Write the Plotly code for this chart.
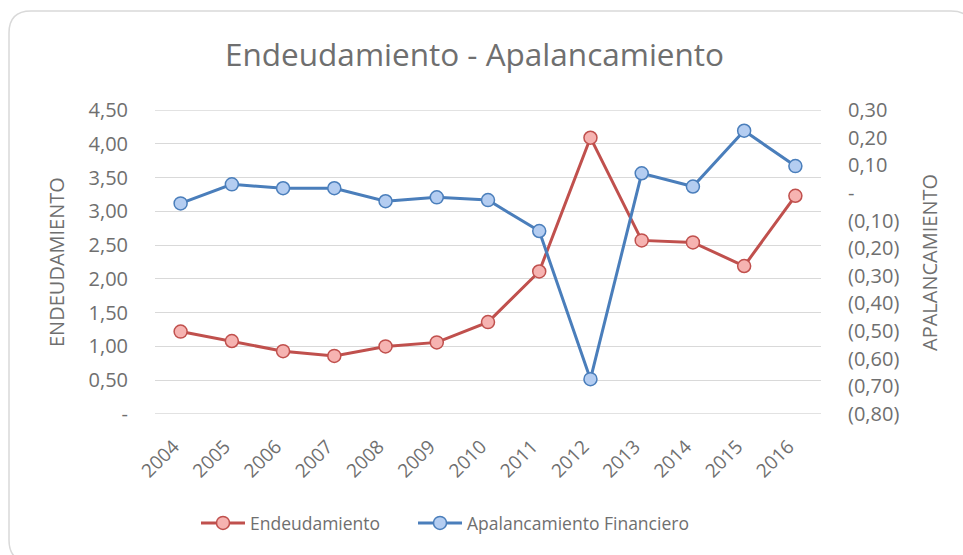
import plotly.graph_objects as go

years = ["2004", "2005", "2006", "2007", "2008", "2009", "2010",
         "2011", "2012", "2013", "2014", "2015", "2016"]
endeudamiento = [1.22, 1.08, 0.93, 0.86, 1.00, 1.06, 1.36,
                 2.11, 4.09, 2.57, 2.54, 2.19, 3.23]
apalancamiento = [-0.038, 0.031, 0.017, 0.017, -0.030, -0.016, -0.026,
                  -0.138, -0.674, 0.071, 0.023, 0.225, 0.097]

left_ticks = [0, 0.5, 1.0, 1.5, 2.0, 2.5, 3.0, 3.5, 4.0, 4.5]
left_labels = ["-", "0,50", "1,00", "1,50", "2,00", "2,50", "3,00", "3,50", "4,00", "4,50"]
right_ticks = [-0.8, -0.7, -0.6, -0.5, -0.4, -0.3, -0.2, -0.1, 0.0, 0.1, 0.2, 0.3]
right_labels = ["(0,80)", "(0,70)", "(0,60)", "(0,50)", "(0,40)", "(0,30)",
                "(0,20)", "(0,10)", "-", "0,10", "0,20", "0,30"]

W, H = 963, 555
PL, PR, PT, PB = 155, 821, 110, 414
PW, PH = PR - PL, PB - PT


def px(x):
    return (x - PL) / PW


def py(y):
    return (PB - y) / PH


FONT = "Open Sans"
GRAY = "#6f6f6f"
GRID = "#d9d9d9"
RED, RED_FILL = "#c0504d", "#f6b3b1"
BLUE, BLUE_FILL = "#4a7ebb", "#b4cdf1"

fig = go.Figure()
fig.add_trace(go.Scatter(
    x=years, y=endeudamiento, name="Endeudamiento", mode="lines+markers",
    line=dict(color=RED, width=3),
    marker=dict(size=13, color=RED_FILL, line=dict(color=RED, width=1.5)),
    yaxis="y", legend="legend"))
fig.add_trace(go.Scatter(
    x=years, y=apalancamiento, name="Apalancamiento Financiero", mode="lines+markers",
    line=dict(color=BLUE, width=3),
    marker=dict(size=13, color=BLUE_FILL, line=dict(color=BLUE, width=1.5)),
    yaxis="y2", legend="legend2"))

# rounded chart border
x0, x1, y0, y1, r = 9, 973, 11, 562, 22
rx, ry = r / PW, r / PH
X0, X1, Y0, Y1 = px(x0), px(x1), py(y0), py(y1)
path = (f"M {X0+rx},{Y0} L {X1-rx},{Y0} Q {X1},{Y0} {X1},{Y0-ry} "
        f"L {X1},{Y1+ry} Q {X1},{Y1} {X1-rx},{Y1} "
        f"L {X0+rx},{Y1} Q {X0},{Y1} {X0},{Y1+ry} "
        f"L {X0},{Y0-ry} Q {X0},{Y0} {X0+rx},{Y0} Z")

legend_common = dict(orientation="h", xanchor="left", yanchor="middle",
                     font=dict(size=17.5, color=GRAY), itemwidth=44,
                     bgcolor="rgba(0,0,0,0)")

fig.update_layout(
    width=W, height=H,
    margin=dict(l=PL, r=W - PR, t=PT, b=H - PB, pad=0),
    paper_bgcolor="white", plot_bgcolor="white",
    font=dict(family=FONT, color=GRAY, size=20),
    showlegend=True,
    legend=dict(x=px(196), y=py(523), **legend_common),
    legend2=dict(x=px(413), y=py(523), **legend_common),
    xaxis=dict(type="category", range=[-0.5, 12.5], showgrid=False, showline=False,
               zeroline=False, tickangle=-45, ticks="outside", ticklen=13,
               tickcolor="rgba(0,0,0,0)", ticklabelshift=-7,
               tickfont=dict(size=19, color=GRAY)),
    yaxis=dict(range=[0, 4.5], tickvals=left_ticks, ticktext=left_labels,
               showgrid=True, gridcolor=GRID, gridwidth=1.3, zeroline=False,
               showline=False, ticks="outside", ticklen=22, tickcolor="rgba(0,0,0,0)",
               tickfont=dict(size=20, color=GRAY)),
    yaxis2=dict(range=[-0.8, 0.3], tickvals=right_ticks, ticktext=right_labels,
                overlaying="y", side="right", showgrid=False, zeroline=False,
                showline=False, ticks="outside", ticklen=22, tickcolor="rgba(0,0,0,0)",
                tickfont=dict(size=20, color=GRAY)),
    shapes=[
        dict(type="path", path=path, xref="paper", yref="paper",
             line=dict(color=GRID, width=1.5), fillcolor="rgba(0,0,0,0)", layer="below"),
        dict(type="line", xref="paper", yref="y", x0=0, x1=1,
             y0=left_ticks[0], y1=left_ticks[0], line=dict(color=GRID, width=1.3),
             layer="below"),
        dict(type="line", xref="paper", yref="y", x0=0, x1=1,
             y0=left_ticks[-1], y1=left_ticks[-1], line=dict(color=GRID, width=1.3),
             layer="below"),
    ],
    annotations=[
        dict(text="Endeudamiento - Apalancamiento", x=px(474), y=py(53),
             xref="paper", yref="paper", showarrow=False, xanchor="center",
             yanchor="middle", font=dict(size=31.5, color=GRAY)),
        dict(text="ENDEUDAMIENTO", x=px(56), y=py(262), xref="paper", yref="paper",
             showarrow=False, textangle=-90, xanchor="center", yanchor="middle",
             font=dict(size=20, color=GRAY)),
        dict(text="APALANCAMIENTO", x=px(929), y=py(262), xref="paper", yref="paper",
             showarrow=False, textangle=-90, xanchor="center", yanchor="middle",
             font=dict(size=20, color=GRAY)),
    ],
)

fig.write_html("out.html", config={"displayModeBar": False},
               post_script="document.body.style.margin='0px';")
